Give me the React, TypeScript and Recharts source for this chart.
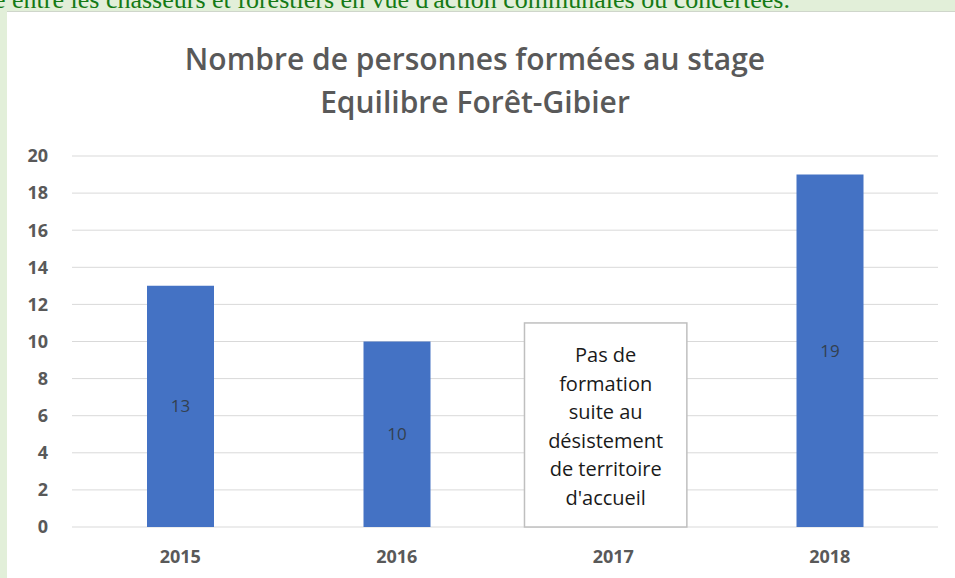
import React from "react";
import {
  BarChart,
  Bar,
  XAxis,
  YAxis,
  CartesianGrid,
  LabelList,
  ReferenceArea,
} from "recharts";

const years = ["2015", "2016", "2017", "2018"];
const trained = [13, 10, null, 19];
const yTicks = [0, 2, 4, 6, 8, 10, 12, 14, 16, 18, 20];
const noteYear = "2017";
const noteTop = 11;
const noteLines = ["Pas de", "formation", "suite au", "désistement", "de territoire", "d'accueil"];

const chartData = years.map((y, i) => ({ year: y, value: trained[i] }));

const FONT = "'Open Sans', 'Liberation Sans', sans-serif";

function NoteBox(props: any) {
  const { x, y, width, height } = props;
  const w = width * 0.75;
  // the text box sits a little left of the category centre
  const left = x + (width - w) / 2 - width * 0.035;
  const cx = left + w / 2;
  return (
    <g>
      <rect x={left} y={y} width={w} height={height} fill="#ffffff" stroke="#bfbfbf" strokeWidth={1.5} />
      {noteLines.map((t, i) => (
        <text
          key={i}
          x={cx}
          y={y + 32 + i * 28.5}
          textAnchor="middle"
          dominantBaseline="central"
          fontSize={20}
          fontFamily={FONT}
          fill="#1a1a1a"
        >
          {t}
        </text>
      ))}
    </g>
  );
}

export default function App() {
  return (
    <div
      style={{
        position: "absolute",
        left: 0,
        top: 0,
        width: 955,
        height: 578,
        background: "#e2efd9",
        overflow: "hidden",
      }}
    >
      <div
        style={{
          position: "absolute",
          left: -6,
          top: -15,
          whiteSpace: "nowrap",
          fontFamily: "'Liberation Serif', 'Times New Roman', serif",
          fontSize: 26,
          lineHeight: "30px",
          color: "#157a15",
        }}
      >
        e entre les chasseurs et forestiers en vue d'action communales ou concertées.
      </div>
      <div
        style={{
          position: "absolute",
          left: 7,
          top: 11,
          width: 948,
          height: 567,
          background: "#ffffff",
          borderTop: "1px solid #cfd6cb",
          boxSizing: "border-box",
        }}
      >
        <div
          style={{
            position: "absolute",
            left: 0,
            top: 25,
            width: 936,
            textAlign: "center",
            fontFamily: FONT,
            fontWeight: 600,
            fontSize: 30,
            lineHeight: "43px",
            color: "#595959",
          }}
        >
          Nombre de personnes formées au stage
          <br />
          Equilibre Forêt-Gibier
        </div>
        <div style={{ position: "absolute", left: 0, top: 0 }}>
          <BarChart
            width={948}
            height={566}
            data={chartData}
            margin={{ top: 144, right: 17, left: 0, bottom: 21 }}
          >
            <CartesianGrid stroke="#d9d9d9" vertical={false} />
            <XAxis
              dataKey="year"
              axisLine={false}
              tickLine={false}
              tickSize={0}
              tickMargin={23}
              height={30}
              tick={{ fontSize: 18, fontWeight: 700, fill: "#595959", fontFamily: FONT }}
            />
            <YAxis
              domain={[0, 20]}
              ticks={yTicks}
              width={65}
              axisLine={false}
              tickLine={false}
              tickSize={0}
              tickMargin={24}
              tick={{ fontSize: 18, fontWeight: 700, fill: "#595959", fontFamily: FONT }}
            />
            <Bar dataKey="value" fill="#4472c4" barSize={67} isAnimationActive={false}>
              <LabelList
                dataKey="value"
                position="center"
                fill="#33404f"
                fontSize={17}
                fontFamily={FONT}
              />
            </Bar>
            <ReferenceArea
              x1={noteYear}
              x2={noteYear}
              y1={0}
              y2={noteTop}
              shape={<NoteBox />}
            />
          </BarChart>
        </div>
      </div>
    </div>
  );
}
